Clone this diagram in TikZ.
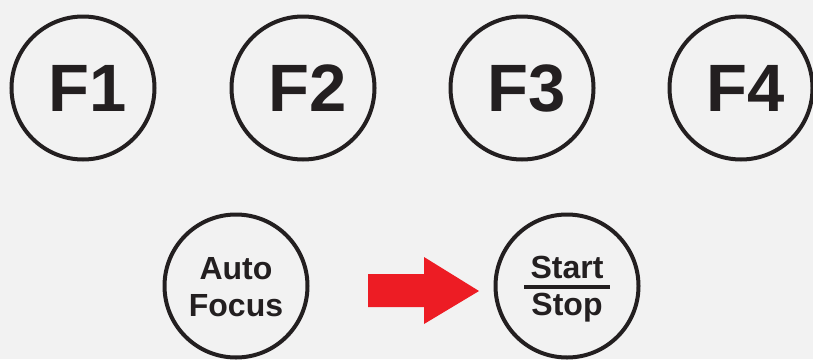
\documentclass[tikz,border=0pt]{standalone}
\usepackage{fontspec}
\setmainfont{Liberation Sans}
\definecolor{ink}{HTML}{231F20}
\definecolor{bg}{HTML}{F2F2F2}
\definecolor{arrowred}{HTML}{ED1C24}
\tikzset{
	btn/.style={circle, draw=ink, line width=4pt, minimum size=143pt, inner sep=0pt},
	big/.style={text=ink, inner sep=0pt, font=\bfseries\fontsize{67}{67}\selectfont},
	small/.style={text=ink, inner sep=0pt, align=center, font=\bfseries\fontsize{32}{37}\selectfont}
}
\begin{document}
\begin{tikzpicture}[x=1pt,y=-1pt]
	\fill[bg] (0,0) rectangle (813,359);
	\useasboundingbox (0,0) rectangle (813,359);
	\foreach \x/\l in {83/F1,303/F2,522/F3,741/F4} {\node[btn, label={[big, xshift=5pt]center:\l}] (\l) at (\x,88) {};}
	\node[btn, label={[small, yshift=-1pt]center:Auto\\Focus}] (auto) at (236,286) {};
	\node[btn, label={[small, yshift=-3pt]center:Start\\Stop}] (start) at (567,286) {};
	\draw[ink, line width=3.5pt] ([xshift=-43pt,yshift=-1pt]start.center) -- ([xshift=43pt,yshift=-1pt]start.center);
	\fill[arrowred] (368,274) -- (424,274) -- (424,257) -- (479,291) -- (424,324) -- (424,307) -- (368,307) -- cycle;
\end{tikzpicture}
\end{document}
